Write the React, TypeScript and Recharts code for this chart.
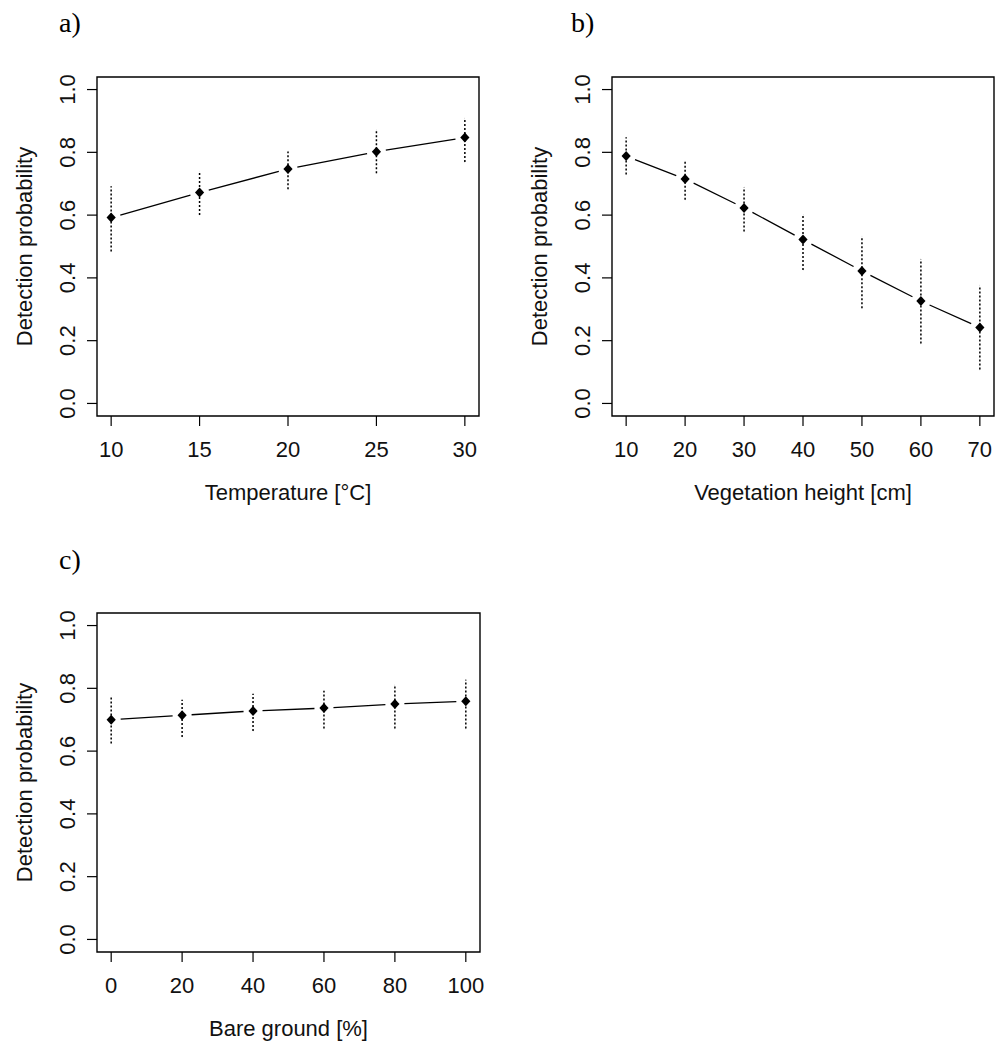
import React from "react";
import {
  ComposedChart,
  Scatter,
  XAxis,
  YAxis,
  ErrorBar,
  ReferenceArea,
} from "recharts";

// Panel a) Temperature
const tempX = [10, 15, 20, 25, 30];
const tempP = [0.592, 0.672, 0.747, 0.802, 0.847];
const tempLo = [0.484, 0.6, 0.682, 0.733, 0.769];
const tempHi = [0.692, 0.739, 0.803, 0.871, 0.908];
const tempTicks = [10, 15, 20, 25, 30];

// Panel b) Vegetation height
const vegX = [10, 20, 30, 40, 50, 60, 70];
const vegP = [0.788, 0.715, 0.623, 0.522, 0.422, 0.326, 0.242];
const vegLo = [0.729, 0.649, 0.548, 0.425, 0.303, 0.191, 0.108];
const vegHi = [0.848, 0.77, 0.689, 0.601, 0.532, 0.459, 0.376];
const vegTicks = [10, 20, 30, 40, 50, 60, 70];

// Panel c) Bare ground
const bareX = [0, 20, 40, 60, 80, 100];
const bareP = [0.7, 0.714, 0.728, 0.737, 0.75, 0.759];
const bareLo = [0.624, 0.645, 0.664, 0.672, 0.672, 0.672];
const bareHi = [0.776, 0.764, 0.783, 0.792, 0.81, 0.827];
const bareTicks = [0, 20, 40, 60, 80, 100];

const yTicks = [0, 0.2, 0.4, 0.6, 0.8, 1.0];
const yDomain: [number, number] = [-0.04, 1.04];

const FONT = '"Liberation Sans", Arial, sans-serif';
const INK = "#111";

function rows(xs: number[], ps: number[], lo: number[], hi: number[]) {
  return xs.map((x, i) => ({ x, p: ps[i], err: [ps[i] - lo[i], hi[i] - ps[i]] }));
}

function pad(ticks: number[]): [number, number] {
  const a = ticks[0];
  const b = ticks[ticks.length - 1];
  const r = (b - a) * 0.04;
  return [a - r, b + r];
}

const XTick = (props: any) => {
  const { x, y, payload } = props;
  return (
    <text x={x} y={y + 31} textAnchor="middle" fontSize={22} fontFamily={FONT} fill={INK}>
      {String(payload.value)}
    </text>
  );
};

const YTick = (props: any) => {
  const { x, y, payload } = props;
  const tx = x - 12;
  return (
    <text
      x={tx}
      y={y}
      textAnchor="middle"
      fontSize={22}
      fontFamily={FONT}
      fill={INK}
      transform={`rotate(-90, ${tx}, ${y})`}
    >
      {Number(payload.value).toFixed(1)}
    </text>
  );
};

const Diamond = (props: any) => {
  const { cx, cy } = props;
  if (cx == null || cy == null) return null;
  return (
    <path
      d={`M${cx},${cy - 5} L${cx + 4.6},${cy} L${cx},${cy + 5} L${cx - 4.6},${cy} Z`}
      fill="#000"
    />
  );
};

// R type="b": line segments between points, with a gap around each point
const GAP = 9.5;
const GappedLine = (props: any) => {
  const pts: { x: number; y: number }[] = props.points || [];
  const segs: string[] = [];
  for (let i = 0; i < pts.length - 1; i++) {
    const a = pts[i];
    const b = pts[i + 1];
    const dx = b.x - a.x;
    const dy = b.y - a.y;
    const len = Math.sqrt(dx * dx + dy * dy);
    if (len <= 2 * GAP) continue;
    const ux = dx / len;
    const uy = dy / len;
    segs.push(
      `M${a.x + ux * GAP},${a.y + uy * GAP} L${b.x - ux * GAP},${b.y - uy * GAP}`
    );
  }
  return <path d={segs.join(" ")} stroke="#000" strokeWidth={1.3} fill="none" />;
};

type PanelProps = {
  left: number;
  top: number;
  width: number;
  marginRight: number;
  data: { x: number; p: number; err: number[] }[];
  ticks: number[];
  xLabel: string;
  tag: string;
  tagLeft: number;
  tagTop: number;
};

const Panel = ({ left, top, width, marginRight, data, ticks, xLabel, tag, tagLeft, tagTop }: PanelProps) => {
  const xDomain = pad(ticks);
  return (
    <>
      <div
        style={{
          position: "absolute",
          left: tagLeft,
          top: tagTop,
          fontFamily: '"Liberation Serif", "Times New Roman", serif',
          fontSize: 28,
          lineHeight: "28px",
          color: "#000",
        }}
      >
        {tag}
      </div>
      <div style={{ position: "absolute", left, top }}>
        <ComposedChart
          width={width}
          height={506}
          data={data}
          margin={{ top: 77, right: marginRight, bottom: 0, left: 0 }}
        >
          <XAxis
            type="number"
            dataKey="x"
            domain={xDomain}
            ticks={ticks}
            allowDataOverflow
            axisLine={false}
            tickLine={{ stroke: "#000", strokeWidth: 1.2 }}
            tickSize={10}
            tickMargin={0}
            height={90}
            tick={<XTick />}
            interval={0}
            label={(p: any) => {
              const vb = p.viewBox || {};
              const cx = (vb.x ?? 0) + (vb.width ?? 0) / 2;
              const by = (vb.y ?? 0) + 84;
              return (
                <text x={cx} y={by} textAnchor="middle" fontSize={22} fontFamily={FONT} fill={INK}>
                  {xLabel}
                </text>
              );
            }}
          />
          <YAxis
            type="number"
            domain={yDomain}
            ticks={yTicks}
            allowDataOverflow
            axisLine={false}
            tickLine={{ stroke: "#000", strokeWidth: 1.2 }}
            tickSize={10}
            tickMargin={0}
            width={97}
            tick={<YTick />}
            interval={0}
            label={(p: any) => {
              const vb = p.viewBox || {};
              const cy = (vb.y ?? 0) + (vb.height ?? 0) / 2;
              const bx = 32;
              return (
                <text
                  x={bx}
                  y={cy}
                  textAnchor="middle"
                  fontSize={22}
                  fontFamily={FONT}
                  fill={INK}
                  transform={`rotate(-90, ${bx}, ${cy})`}
                >
                  Detection probability
                </text>
              );
            }}
          />
          <ReferenceArea
            x1={xDomain[0]}
            x2={xDomain[1]}
            y1={yDomain[0]}
            y2={yDomain[1]}
            fill="none"
            fillOpacity={0}
            stroke="#000"
            strokeWidth={1.4}
            ifOverflow="visible"
          />
          <Scatter
            dataKey="p"
            shape={<Diamond />}
            line={GappedLine}
            isAnimationActive={false}
          >
            <ErrorBar
              dataKey="err"
              direction="y"
              width={0}
              stroke="#000"
              strokeWidth={1.5}
              strokeDasharray="2 2"
              isAnimationActive={false}
            />
          </Scatter>
        </ComposedChart>
      </div>
    </>
  );
};

export default function App() {
  const a = rows(tempX, tempP, tempLo, tempHi);
  const b = rows(vegX, vegP, vegLo, vegHi);
  const c = rows(bareX, bareP, bareLo, bareHi);
  return (
    <div
      style={{
        position: "absolute",
        left: 0,
        top: 0,
        width: 999,
        height: 1050,
        overflow: "hidden",
        background: "#fff",
      }}
    >
      <Panel left={0} top={0} width={499} marginRight={20} data={a} ticks={tempTicks}
        xLabel="Temperature [°C]" tag="a)" tagLeft={59} tagTop={9} />
      <Panel left={515} top={0} width={484} marginRight={5} data={b} ticks={vegTicks}
        xLabel="Vegetation height [cm]" tag="b)" tagLeft={571} tagTop={9} />
      <Panel left={0} top={536} width={499} marginRight={19} data={c} ticks={bareTicks}
        xLabel="Bare ground [%]" tag="c)" tagLeft={59} tagTop={546} />
    </div>
  );
}
